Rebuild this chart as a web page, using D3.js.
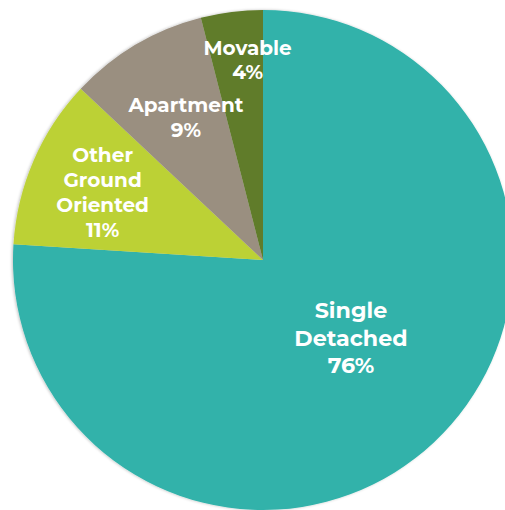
<!DOCTYPE html>
<html>
<head>
<meta charset="utf-8">
<script src="https://cdn.jsdelivr.net/npm/d3@7"></script>
<style>
  html, body { margin: 0; padding: 0; background: #ffffff; }
  svg { display: block; }
</style>
</head>
<body>
<svg id="chart" width="505" height="510"></svg>
<script>
// Housing stock by dwelling type (share of total, %)
const categories = ["Single Detached", "Other Ground Oriented", "Apartment", "Movable"];
const shares = [76, 11, 9, 4];
const labelLines = [["Single", "Detached"], ["Other", "Ground", "Oriented"], ["Apartment"], ["Movable"]];
const colors = ["#30b2aa", "#bcd136", "#9a8f80", "#607b2b"];

// label placement: distance from centre and angular nudge (degrees) from slice mid-angle
const labelRadius = [117.6, 174, 162, 200.6];
const labelTurn = [-5.2, -0.6, 2.2, 2.8];
const labelSize = [22.2, 20, 20, 20];
const labelLead = [27.5, 25, 25, 24.5];

const svg = d3.select("#chart");
const cx = 263, cy = 260, radius = 250;

const g = svg.append("g").attr("transform", `translate(${cx},${cy})`);

const data = categories.map((c, i) => ({ name: c, value: shares[i], idx: i }));

const pie = d3.pie().value(d => d.value).sort(null);
const arcs = pie(data);

const arc = d3.arc().innerRadius(0).outerRadius(radius);

// soft edge shadow
const defs = svg.append("defs");
const f = defs.append("filter").attr("id", "shadow").attr("x", "-10%").attr("y", "-10%").attr("width", "120%").attr("height", "120%");
f.append("feGaussianBlur").attr("in", "SourceAlpha").attr("stdDeviation", 1.5);
f.append("feOffset").attr("dx", -1).attr("dy", 0).attr("result", "b");
f.append("feComponentTransfer").append("feFuncA").attr("type", "linear").attr("slope", 0.25);
const m = f.append("feMerge");
m.append("feMergeNode");
m.append("feMergeNode").attr("in", "SourceGraphic");

const slices = g.append("g").attr("filter", "url(#shadow)");
slices.selectAll("path")
  .data(arcs)
  .join("path")
  .attr("d", arc)
  .attr("fill", d => colors[d.data.idx]);

// labels
arcs.forEach(a => {
  const i = a.data.idx;
  const ang = (a.startAngle + a.endAngle) / 2 + labelTurn[i] * Math.PI / 180;
  const lx = labelRadius[i] * Math.sin(ang);
  const ly = -labelRadius[i] * Math.cos(ang);
  const lines = labelLines[i].concat([a.data.value + "%"]);
  const lineH = labelLead[i];
  const top = ly - (lines.length - 1) * lineH / 2;
  const t = g.append("text")
    .attr("text-anchor", "middle")
    .attr("fill", "#ffffff")
    .attr("font-family", "Montserrat, 'Open Sans', Lato, sans-serif")
    .attr("font-weight", 700)
    .attr("font-size", labelSize[i]);
  lines.forEach((ln, k) => {
    t.append("tspan")
      .attr("x", lx)
      .attr("y", top + k * lineH)
      .attr("dy", "0.35em")
      .text(ln);
  });
});
</script>
</body>
</html>
